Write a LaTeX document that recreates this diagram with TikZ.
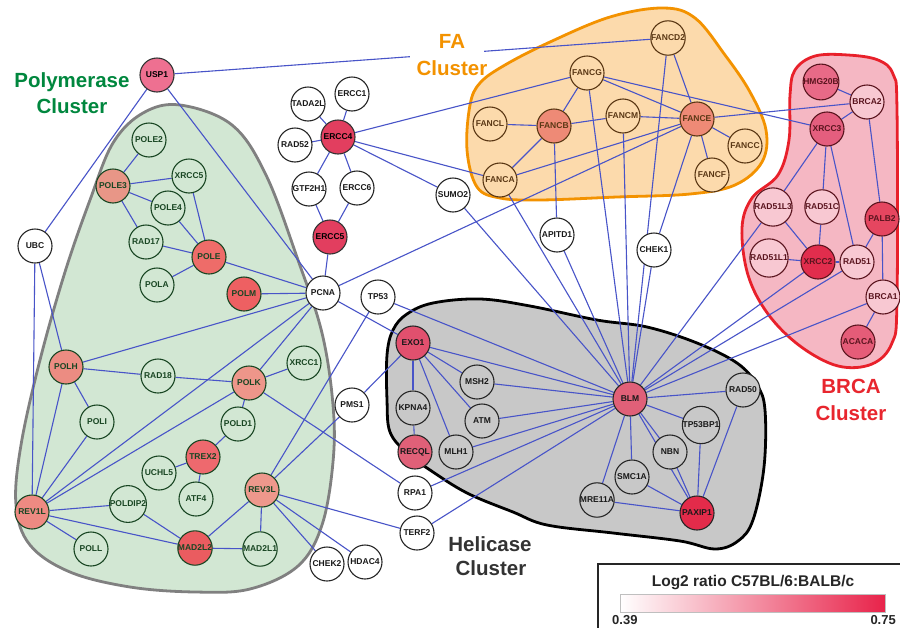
\documentclass[tikz,border=0pt]{standalone}
\usepackage{fontspec}
\setmainfont{Liberation Sans}
\pgfdeclarelayer{bg}
\pgfdeclarelayer{edges}
\pgfsetlayers{bg,edges,main}
\definecolor{eblue}{RGB}{72,84,200}
\definecolor{gfill}{RGB}{210,231,211}
\definecolor{gline}{RGB}{128,128,128}
\definecolor{gdark}{RGB}{25,70,35}
\definecolor{ofill}{RGB}{252,218,172}
\definecolor{oline}{RGB}{243,146,0}
\definecolor{odark}{RGB}{90,55,20}
\definecolor{pfill}{RGB}{245,183,195}
\definecolor{pline}{RGB}{232,32,42}
\definecolor{pdark}{RGB}{90,20,30}
\definecolor{bnfill}{RGB}{248,200,210}
\definecolor{hfill}{RGB}{200,200,200}
\definecolor{polygreen}{RGB}{0,135,62}
\definecolor{faorange}{RGB}{243,146,0}
\definecolor{brcared}{RGB}{232,38,46}
\definecolor{helgray}{RGB}{51,51,51}
\definecolor{legred}{RGB}{232,35,74}
\definecolor{cPOLEthree}{RGB}{232,150,135}
\definecolor{cPOLH}{RGB}{236,140,130}
\definecolor{cPOLK}{RGB}{238,150,138}
\definecolor{cREVoneL}{RGB}{238,138,130}
\definecolor{cREVthreeL}{RGB}{238,152,140}
\definecolor{cPOLE}{RGB}{238,108,105}
\definecolor{cPOLM}{RGB}{238,96,98}
\definecolor{cTREX}{RGB}{238,105,110}
\definecolor{cMADtwo}{RGB}{234,92,96}
\definecolor{cUSP}{RGB}{238,112,145}
\definecolor{cERCC}{RGB}{226,62,95}
\definecolor{cFANC}{RGB}{238,138,118}
\definecolor{cHMG}{RGB}{232,106,135}
\definecolor{cXRCCthree}{RGB}{228,94,126}
\definecolor{cPALB}{RGB}{229,70,96}
\definecolor{cXRCCtwo}{RGB}{225,45,77}
\definecolor{cACACA}{RGB}{229,92,120}
\definecolor{cEXO}{RGB}{225,80,110}
\definecolor{cBLM}{RGB}{224,96,120}
\definecolor{cPAX}{RGB}{227,43,74}
\tikzset{
  nd/.style={circle, draw, line width=1.1pt, minimum size=34pt, inner sep=0pt,
    font=\fontsize{8.5}{9}\selectfont\bfseries},
  gn/.style={nd, fill=gfill, draw=gdark, text=gdark},
  fn/.style={nd, fill=ofill, draw=odark, text=odark},
  bn/.style={nd, fill=bnfill, draw=pdark, text=pdark},
  hn/.style={nd, fill=hfill, draw=black!85, text=black!90},
  wn/.style={nd, fill=white, draw=black!85, text=black!90},
  edge/.style={draw=eblue, line width=1.1pt},
  blob/.style={line width=2.8pt},
  clab/.style={font=\fontsize{20.5}{26}\selectfont\bfseries, inner sep=0pt, anchor=base},
}
\begin{document}
\begin{tikzpicture}[x=1pt,y=-1pt]
\useasboundingbox (0,0) rectangle (900,627);

\begin{pgfonlayer}{bg}
\fill[white] (0,0) rectangle (900,627);
\filldraw[blob, fill=gfill, draw=gline] plot[smooth cycle, tension=0.6] coordinates {(180,105) (232,125) (266,175) (298,260) (322,333) (333,405) (333,462) (322,525) (298,566) (250,589) (195,592) (130,587) (70,572) (30,545) (16,505) (21,445) (40,360) (65,272) (90,200) (113,143) (143,113)};
\filldraw[blob, fill=ofill, draw=oline] plot[smooth cycle, tension=0.6] coordinates {(467,150) (470,105) (480,83) (505,65) (550,42) (610,17) (663,8) (695,18) (725,55) (750,92) (766,130) (762,162) (735,185) (690,194) (617,197) (540,200) (500,198) (477,187)};
\filldraw[blob, fill=pfill, draw=pline] plot[smooth cycle, tension=0.6] coordinates {(795,70) (815,56) (848,55) (878,60) (893,74) (897,110) (897,300) (892,343) (872,364) (838,366) (800,346) (768,314) (748,275) (742,228) (752,198) (778,175) (789,140) (790,95)};
\filldraw[blob, fill=hfill, draw=black] plot[smooth cycle, tension=0.6] coordinates {(393,330) (407,314) (433,303) (480,299) (530,306) (597,320) (647,327) (697,343) (737,363) (757,385) (765,410) (764,467) (753,520) (738,541) (715,549) (680,541) (613,533) (547,525) (513,512) (467,493) (430,470) (407,453) (390,432) (387,400) (387,355)};
\end{pgfonlayer}

% Polymerase cluster
\node[nd, fill=cUSP, draw=black!80] (USP1) at (157,75) {USP1};
\node[wn] (UBC) at (35,246) {UBC};
\node[gn] (POLE2) at (149,140) {POLE2};
\node[gn, fill=cPOLEthree] (POLE3) at (113,186) {POLE3};
\node[gn] (XRCC5) at (189,176) {XRCC5};
\node[gn] (POLE4) at (168,208) {POLE4};
\node[gn] (RAD17) at (146,242) {RAD17};
\node[gn, fill=cPOLE] (POLE) at (209,257) {POLE};
\node[gn] (POLA) at (157,285) {POLA};
\node[gn, fill=cPOLM] (POLM) at (244,294) {POLM};
\node[gn, fill=cPOLH] (POLH) at (66,367) {POLH};
\node[gn] (RAD18) at (158,376) {RAD18};
\node[gn, fill=cPOLK] (POLK) at (249,383) {POLK};
\node[gn] (XRCC1) at (304,363) {XRCC1};
\node[gn] (POLI) at (97,422) {POLI};
\node[gn] (POLD1) at (238,424) {POLD1};
\node[gn, fill=cTREX] (TREX2) at (203,457) {TREX2};
\node[gn] (UCHL5) at (159,473) {UCHL5};
\node[gn] (ATF4) at (196,499) {ATF4};
\node[gn, fill=cREVthreeL] (REV3L) at (262,490) {REV3L};
\node[gn] (POLDIP2) at (128,504) {POLDIP2};
\node[gn, fill=cREVoneL] (REV1L) at (32,512) {REV1L};
\node[gn] (POLL) at (91,549) {POLL};
\node[gn, fill=cMADtwo] (MAD2L2) at (195,548) {MAD2L2};
\node[gn] (MAD2L1) at (260,549) {MAD2L1};
% middle
\node[wn] (PCNA) at (323,293) {PCNA};
\node[wn] (TP53) at (378,297) {TP53};
\node[wn] (PMS1) at (352,405) {PMS1};
\node[wn] (CHEK2) at (327,564) {CHEK2};
\node[wn] (HDAC4) at (365,562) {HDAC4};
\node[wn] (RPA1) at (415,493) {RPA1};
\node[wn] (TERF2) at (417,533) {TERF2};
\node[wn] (TADA2L) at (308,104) {TADA2L};
\node[wn] (ERCC1) at (352,94) {ERCC1};
\node[wn] (RAD52) at (295,145) {RAD52};
\node[nd, fill=cERCC, draw=black!80] (ERCC4) at (338,137) {ERCC4};
\node[wn] (GTF2H1) at (309,189) {GTF2H1};
\node[wn] (ERCC6) at (357,188) {ERCC6};
\node[nd, fill=cERCC, draw=black!80] (ERCC5) at (330,237) {ERCC5};
\node[wn] (SUMO2) at (453,195) {SUMO2};
\node[wn] (APITD1) at (557,235) {APITD1};
\node[wn] (CHEK1) at (654,250) {CHEK1};
% FA cluster
\node[fn] (FANCD2) at (668,38) {FANCD2};
\node[fn] (FANCG) at (587,73) {FANCG};
\node[fn] (FANCL) at (490,124) {FANCL};
\node[fn, fill=cFANC] (FANCB) at (554,126) {FANCB};
\node[fn] (FANCM) at (623,116) {FANCM};
\node[fn, fill=cFANC] (FANCE) at (697,119) {FANCE};
\node[fn] (FANCC) at (745,146) {FANCC};
\node[fn] (FANCF) at (712,175) {FANCF};
\node[fn] (FANCA) at (500,180) {FANCA};
% BRCA cluster
\node[bn, fill=cHMG] (HMG20B) at (821,82) {HMG20B};
\node[bn] (BRCA2) at (867,102) {BRCA2};
\node[bn, fill=cXRCCthree] (XRCC3) at (827,129) {XRCC3};
\node[bn] (RAD51L3) at (773,207) {RAD51L3};
\node[bn] (RAD51C) at (822,207) {RAD51C};
\node[bn, fill=cPALB] (PALB2) at (882,219) {PALB2};
\node[bn] (RAD51L1) at (769,258) {RAD51L1};
\node[bn, fill=cXRCCtwo] (XRCC2) at (818,262) {XRCC2};
\node[bn] (RAD51) at (857,262) {RAD51};
\node[bn] (BRCA1) at (883,297) {BRCA1};
\node[bn, fill=cACACA] (ACACA) at (858,342) {ACACA};
% Helicase cluster
\node[hn, fill=cEXO] (EXO1) at (413,343) {EXO1};
\node[hn] (MSH2) at (477,382) {MSH2};
\node[hn] (KPNA4) at (413,408) {KPNA4};
\node[hn] (ATM) at (482,421) {ATM};
\node[hn, fill=cBLM] (RECQL) at (415,452) {RECQL};
\node[hn] (MLH1) at (456,452) {MLH1};
\node[hn, fill=cBLM] (BLM) at (630,399) {BLM};
\node[hn] (RAD50) at (743,390) {RAD50};
\node[hn] (TP53BP1) at (701,425) {TP53BP1};
\node[hn] (NBN) at (670,452) {NBN};
\node[hn] (SMC1A) at (632,477) {SMC1A};
\node[hn] (MRE11A) at (597,500) {MRE11A};
\node[hn, fill=cPAX] (PAXIP1) at (697,513) {PAXIP1};

\begin{pgfonlayer}{edges}
\foreach \a/\b in {USP1/FANCD2, USP1/UBC, USP1/PCNA, UBC/POLH, UBC/REV1L,
  POLE2/POLE3, POLE3/XRCC5, POLE3/POLE4, POLE3/RAD17,
  XRCC5/POLE, POLE4/POLE, RAD17/POLE, POLA/POLE, POLE/PCNA, POLM/PCNA,
  POLH/PCNA, POLH/RAD18, RAD18/POLK, POLH/POLI, POLH/REV1L, POLI/REV1L,
  REV1L/PCNA, REV1L/POLK, REV1L/POLDIP2, REV1L/MAD2L2, REV1L/POLL,
  POLK/PCNA, POLK/XRCC1, POLK/POLD1, POLK/RPA1,
  POLD1/TREX2, TREX2/UCHL5, TREX2/ATF4,
  POLDIP2/MAD2L2, MAD2L2/MAD2L1, MAD2L2/REV3L, REV3L/MAD2L1,
  REV3L/TP53, REV3L/PMS1, REV3L/TERF2, REV3L/HDAC4, REV3L/CHEK2,
  PCNA/ERCC5, PCNA/FANCE, PCNA/EXO1,
  ERCC4/TADA2L, ERCC4/ERCC1, ERCC4/RAD52, ERCC4/GTF2H1, ERCC4/ERCC6,
  ERCC4/FANCG, ERCC4/FANCA, ERCC4/SUMO2, GTF2H1/ERCC5, ERCC6/ERCC5,
  SUMO2/BLM, TP53/BLM, PMS1/EXO1, RPA1/BLM, TERF2/BLM,
  FANCA/FANCB, FANCA/FANCE, FANCA/BLM, FANCL/FANCB, FANCB/FANCG, FANCB/FANCM,
  FANCB/APITD1, APITD1/BLM, FANCG/FANCE, FANCG/XRCC3, FANCG/BLM,
  FANCM/FANCE, FANCM/BLM, FANCD2/FANCE, FANCD2/BLM,
  FANCE/FANCC, FANCE/FANCF, FANCE/BRCA2, FANCE/CHEK1, CHEK1/BLM,
  HMG20B/BRCA2, BRCA2/XRCC3, BRCA2/PALB2, XRCC3/RAD51L3, XRCC3/RAD51C, XRCC3/RAD51,
  RAD51L3/XRCC2, RAD51C/XRCC2, RAD51L1/XRCC2, XRCC2/RAD51, RAD51/PALB2,
  PALB2/BRCA1, BRCA1/ACACA,
  BLM/RAD51L3, BLM/XRCC2, BLM/RAD51, BLM/BRCA1,
  EXO1/KPNA4, KPNA4/RECQL, EXO1/MSH2, EXO1/ATM, EXO1/MLH1, EXO1/BLM,
  MSH2/BLM, ATM/BLM, MLH1/BLM,
  BLM/RAD50, BLM/TP53BP1, BLM/NBN, BLM/SMC1A, BLM/MRE11A, BLM/PAXIP1,
  NBN/PAXIP1, SMC1A/PAXIP1, MRE11A/PAXIP1, TP53BP1/PAXIP1, RAD50/PAXIP1}
  \draw[edge] (\a) -- (\b);
\fill[white] (410,49) rectangle (484,60);
\end{pgfonlayer}

% cluster labels
\node[clab, text=polygreen] (polyA) at (72,87) {Polymerase};
\node[clab, text=polygreen] (polyB) at (72,113) {Cluster};
\node[clab, text=faorange] (faA) at (452,48) {FA};
\node[clab, text=faorange] (faB) at (452,75) {Cluster};
\node[clab, text=brcared] (brA) at (851,393) {BRCA};
\node[clab, text=brcared] (brB) at (851,420) {Cluster};
\node[clab, text=helgray] (heA) at (490,551) {Helicase};
\node[clab, text=helgray] (heB) at (491,575) {Cluster};

% legend
\draw[line width=2pt, black!85] (910,564) -- (598,564) -- (598,640);
\shade[left color=white, right color=legred] (620,594) rectangle (885,612);
\draw[gray!50, line width=0.6pt] (620,594) rectangle (885,612);
\node[font=\fontsize{15.5}{18}\selectfont\bfseries, text=black!85, anchor=base, inner sep=0pt] (legt) at (753,586) {Log2 ratio C57BL/6:BALB/c};
\node[font=\fontsize{13}{15}\selectfont\bfseries, text=black!85, anchor=base west, inner sep=0pt] (lmin) at (612,624) {0.39};
\node[font=\fontsize{13}{15}\selectfont\bfseries, text=black!85, anchor=base east, inner sep=0pt] (lmax) at (896,624) {0.75};
\end{tikzpicture}
\end{document}
